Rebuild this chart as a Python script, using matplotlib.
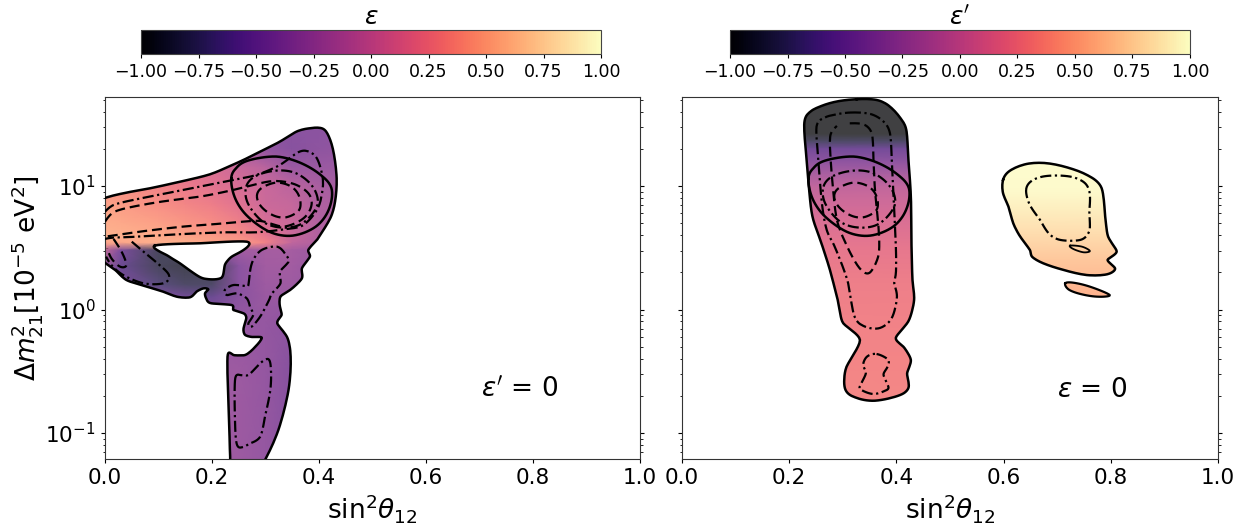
import numpy as np
import matplotlib
matplotlib.use("Agg")
import matplotlib.pyplot as plt
from matplotlib.colors import ListedColormap, Normalize
from matplotlib.cm import ScalarMappable
from matplotlib.path import Path

# Everything below is (sin^2 theta12, log10 dm2)
oval_solid = [(.236,1.062),(.245,1.143),(.267,1.205),(.320,1.238),(.369,1.180),(.407,1.075),(.424,.968),(.418,.806),(.394,.671),(.351,.598),(.307,.630),(.264,.765),(.242,.914)]
oval_dashdot = [(.264,.995),(.282,1.081),(.320,1.124),(.357,1.103),(.388,.995),(.397,.846),(.369,.698),(.332,.663),(.295,.711),(.267,.860)]
oval_dashed = [(.284,.914),(.292,.981),(.320,1.027),(.348,.995),(.363,.914),(.363,.806),(.338,.746),(.313,.765),(.292,.833)]

left_outline = [(-.015,.870),(.028,.935),(.084,.981),(.146,1.040),(.196,1.094),(.231,1.157),(.259,1.211),(.290,1.278),(.327,1.359),(.358,1.440),(.383,1.467),(.405,1.467),(.417,1.413),(.427,1.278),(.433,1.062),(.430,.873),(.421,.738),(.402,.603),
 (.396,.563),(.380,.482),(.383,.428),(.368,.333),(.368,.252),(.346,.158),(.328,.104),(.327,.023),(.330,-.045),(.322,-.112),(.340,-.220),(.347,-.382),(.343,-.652),(.324,-.976),(.299,-1.219),(.285,-1.30),(.236,-1.30),(.234,-1.219),(.233,-1.057),(.231,-.787),(.229,-.382),(.240,-.368),(.262,-.368),(.281,-.301),(.293,-.228),(.277,-.223),(.262,-.206),(.259,-.152),(.264,-.072),(.259,-.031),(.240,-.004),(.237,.036),(.199,.050),(.190,.082),(.187,.131),(.193,.163),(.184,.171),(.171,.144),
 (.159,.099),(.134,.104),(.109,.144),(.072,.193),(.040,.239),(.019,.320),(-.015,.441),(-.015,.600),(-.015,.750)]
left_hole = [(.093,.517),(.178,.536),(.265,.549),(.259,.482),(.237,.428),(.224,.360),(.218,.258),(.190,.247),(.171,.279),(.140,.374),(.115,.441)]
left_band_dashdot = [(0,.792),(.016,.846),(.053,.887),(.115,.941),(.178,.995),(.240,1.049),(.283,1.089),(.327,1.170),(.358,1.265),(.377,1.283),(.396,1.224),(.407,1.062),(.405,.927),(.396,.806),(.371,.684),(.340,.652),(.283,.625),(.227,.625),(.146,.611),(.065,.590),(.016,.582),(0,.571)]
left_band_dashed = [(0,.711),(.016,.787),(.053,.833),(.115,.879),(.178,.914),(.240,.968),(.290,1.022),(.321,1.040),(.355,1.013),(.380,.941),(.386,.846),(.371,.738),(.333,.671),(.290,.717),(.227,.698),(.146,.671),(.065,.630),(.016,.598),(0,.590)]
left_lobe_dashdot = [(.050,.549),(.072,.468),(.109,.333),(.120,.266),(.109,.212),(.072,.212),(.034,.279),(.012,.360),(.002,.428)]
left_lobe_dashed = [(.016,.571),(.031,.468),(.040,.360),(.028,.347),(.012,.414),(.004,.495)]
left_mid_dashdot = [(.271,.306),(.277,.401),(.293,.482),(.321,.509),(.336,.455),(.343,.387),(.327,.306),(.328,.212),(.312,.131),(.308,.090),(.302,.036),(.290,-.058),(.274,-.139),(.268,-.112),(.277,-.045),(.271,.023),(.265,.090),(.246,.131),(.228,.117),(.224,.158),(.240,.198),(.262,.190),(.268,.198)]
left_tail_dashdot = [(.243,-.571),(.252,-.530),(.268,-.530),(.290,-.436),(.305,-.401),(.310,-.476),(.309,-.652),(.299,-.868),(.290,-1.030),(.271,-1.084),(.255,-1.116),(.246,-1.084),(.243,-.895)]

right_outline = [(.326,1.702),(.363,1.696),(.388,1.642),(.410,1.534),(.419,1.440),(.422,1.238),(.427,.914),(.428,.563),(.430,.239),(.433,.077),(.422,-.098),(.399,-.228),(.413,-.301),(.427,-.409),(.420,-.517),(.423,-.625),(.407,-.692),(.360,-.738),(.323,-.711),(.304,-.638),(.307,-.463),(.332,-.247),(.301,-.112),(.292,.049),(.276,.320),(.258,.563),(.245,.725),(.239,.887),(.232,1.238),(.228,1.494),(.236,1.588),(.257,1.642),(.288,1.683)]
right_dashdot = [(.313,1.594),(.351,1.583),(.376,1.521),(.388,1.426),(.391,1.238),(.394,.968),(.399,.509),(.399,.293),(.396,.212),(.401,.104),(.391,-.072),(.366,-.153),(.335,-.125),(.320,-.031),(.310,.212),(.295,.401),(.282,.536),(.270,.644),(.261,.860),(.254,1.238),(.251,1.480),(.264,1.548),(.283,1.575)]
right_dashed = [(.313,1.507),(.338,1.499),(.354,1.426),(.357,1.238),(.360,.968),(.366,.698),(.368,.509),(.364,.401),(.351,.301),(.338,.306),(.323,.387),(.304,.549),(.289,.725),(.282,.968),(.277,1.238),(.277,1.413),(.289,1.486)]
right_foot_dashdot = [(.363,-.360),(.385,-.409),(.382,-.476),(.376,-.530),(.385,-.625),(.379,-.657),(.357,-.684),(.335,-.652),(.332,-.620),(.343,-.517),(.338,-.450),(.345,-.382)]
blob_outline = [(.599,1.049),(.612,1.124),(.643,1.178),(.681,1.184),(.724,1.143),(.761,1.076),(.783,.981),(.789,.779),(.795,.590),(.811,.468),(.794,.401),(.808,.333),(.793,.285),(.755,.279),(.712,.320),(.674,.374),(.653,.428),(.649,.482),(.631,.590),(.618,.698),(.609,.833),(.599,.941)]
islet_outline = [(.715,.212),(.730,.217),(.761,.185),(.798,.117),(.774,.104),(.743,.126),(.721,.163)]
blob_dashdot = [(.642,.968),(.653,1.043),(.681,1.081),(.724,1.076),(.752,1.022),(.761,.927),(.760,.792),(.761,.684),(.758,.617),(.743,.563),(.706,.563),(.684,.617),(.668,.725),(.649,.846)]
blob_lens = [(.724,.517),(.746,.509),(.761,.474),(.749,.463),(.730,.490)]

# epsilon colour table, left panel
eps_s = [-.02, .03, .1, .15, .2, .25, .3, .35, .4, .46]
eps_L = [1.5, 1.3, 1.15, 1.0, .85, .7, .6, .54, .48, .35, .2, .1, -.1, -.5, -1.3]
eps_table = [
 [-.4,-.4,-.4,-.4,-.4,-.4,-.4,-.4,-.4,-.38],
 [-.1,-.1,-.1,-.1,-.1,-.2,-.35,-.42,-.38,-.33],
 [.3,.3,.25,.2,.12,0,-.1,-.3,-.3,-.28],
 [.42,.38,.3,.24,.17,.1,0,-.08,-.2,-.25],
 [.5,.45,.38,.32,.26,.16,.02,-.02,-.15,-.2],
 [.55,.52,.47,.42,.36,.28,.1,0,-.15,-.2],
 [.58,.56,.52,.48,.43,.36,.2,0,-.15,-.2],
 [.5,.5,.56,.56,.5,.45,.3,-.05,-.15,-.2],
 [.2,-.5,-.85,-.8,-.45,-.25,-.22,-.22,-.28,-.3],
 [-.2,-.6,-.85,-.92,-.88,-.4,-.25,-.25,-.33,-.35],
 [-.3,-.5,-.7,-.8,-.8,-.4,-.28,-.28,-.33,-.38],
 [-.4,-.4,-.45,-.55,-.6,-.4,-.3,-.3,-.38,-.38],
 [-.35,-.35,-.35,-.35,-.35,-.33,-.33,-.38,-.42,-.42],
 [-.28,-.28,-.28,-.28,-.28,-.28,-.33,-.43,-.47,-.47],
 [-.28,-.28,-.28,-.28,-.28,-.28,-.33,-.43,-.47,-.47],
]
# epsilon' colour profiles, right panel
main_L = [1.75,1.42,1.36,1.3,1.2,1.1,1.0,.9,.75,.5,.2,-.2,-.8]
main_eps = [-1,-1,-.8,-.55,-.38,-.2,-.05,.02,.1,.2,.27,.3,.33]
blob_L = [1.25,.95,.8,.6,.4,.2,.05]
blob_eps = [1,.97,.9,.8,.68,.6,.56]

x_ticks = [0, .2, .4, .6, .8, 1]
cbar_ticks = [-1, -.75, -.5, -.25, 0, .25, .5, .75, 1]
W, H = 1247, 525


def smooth(pts, closed=True, n=3):
    """Four-point subdivision, so the curve passes through the points read."""
    p = np.array(pts, float)
    for _ in range(n):
        if closed:
            a, b = p, np.roll(p, -1, axis=0)
            z, c = np.roll(p, 1, axis=0), np.roll(p, -2, axis=0)
            mid = 9/16*(a+b) - 1/16*(z+c)
            p = np.column_stack([a, mid]).reshape(-1, 2)
        else:
            e = np.vstack([2*p[0]-p[1], p, 2*p[-1]-p[-2]])
            mid = 9/16*(e[1:-2]+e[2:-1]) - 1/16*(e[:-3]+e[3:])
            q = np.zeros((2*len(p)-1, 2))
            q[::2] = p
            q[1::2] = mid
            p = q
    return p


def curve(ax, pts, ls, lw=1.6, closed=True):
    p = smooth(pts, closed)
    if closed:
        p = np.vstack([p, p[0]])
    ax.plot(p[:, 0], 10**p[:, 1], color='k', ls=ls, lw=lw, zorder=4)


def clip_path(*loops):
    paths = []
    for loop in loops:
        p = smooth(loop)
        p = np.vstack([p, p[0]])
        p[:, 1] = 10**p[:, 1]
        paths.append(Path(p, closed=False))
    return Path.make_compound_path(*paths)


base = plt.get_cmap('magma')(np.linspace(0, 1, 256))[:, :3]
faded = ListedColormap(base*.75 + .25)
norm = Normalize(-1, 1)
dd = (0, (5, 1.6, 1, 1.6))
dsh = (0, (4.5, 2.2))

fig = plt.figure(figsize=(W/100, H/100), dpi=100)


def box(x0, y0, x1, y1):
    return [x0/W, 1-y1/H, (x1-x0)/W, (y1-y0)/H]


axL = fig.add_axes(box(105, 97, 640, 459))
axR = fig.add_axes(box(682, 97, 1218, 459))
for ax in (axL, axR):
    ax.set_yscale('log')
    ax.set_xlim(0, 1)
    ax.set_ylim(10**-1.21, 10**1.72)
    ax.set_xticks(x_ticks)
    ax.tick_params(which='major', right=True, labelsize=15.5, length=3.2)
    ax.tick_params(which='minor', right=True, length=1.8)
    ax.set_xlabel(r'$\mathrm{sin}^2\theta_{12}$', fontsize=19, labelpad=3)
    for sp in ax.spines.values():
        sp.set_color('#333333')
axL.set_ylabel(r'$\Delta m^2_{21}[10^{-5}\ \mathrm{eV}^2]$', fontsize=19, labelpad=0)
axR.tick_params(which='both', labelleft=False)

# left panel
X, Y = np.meshgrid(eps_s, 10**np.array(eps_L))
m = axL.pcolormesh(X, Y, np.array(eps_table), cmap=faded, norm=norm, shading='gouraud', zorder=2)
m.set_clip_path(clip_path(left_outline, left_hole[::-1]), axL.transData)
curve(axL, left_outline, '-', 1.8)
curve(axL, left_hole, '-', 1.8)
curve(axL, left_band_dashdot, dd, closed=False)
curve(axL, left_band_dashed, dsh, closed=False)
curve(axL, left_lobe_dashdot, dd, closed=False)
curve(axL, left_lobe_dashed, dsh, closed=False)
curve(axL, left_mid_dashdot, dd)
curve(axL, left_tail_dashdot, dd)

# right panel
X, Y = np.meshgrid([.2, .45], 10**np.array(main_L))
m = axR.pcolormesh(X, Y, np.column_stack([main_eps, main_eps]), cmap=faded, norm=norm, shading='gouraud', zorder=2)
m.set_clip_path(clip_path(right_outline), axR.transData)
X, Y = np.meshgrid([.58, .83], 10**np.array(blob_L))
m = axR.pcolormesh(X, Y, np.column_stack([blob_eps, blob_eps]), cmap=faded, norm=norm, shading='gouraud', zorder=2)
m.set_clip_path(clip_path(blob_outline, islet_outline), axR.transData)
curve(axR, right_outline, '-', 1.8)
curve(axR, blob_outline, '-', 1.8)
curve(axR, islet_outline, '-', 1.6)
curve(axR, right_dashdot, dd)
curve(axR, right_dashed, dsh, closed=False)
curve(axR, right_foot_dashdot, dd)
curve(axR, blob_dashdot, dd)
curve(axR, blob_lens, '-', 1.3)

for ax in (axL, axR):
    curve(ax, oval_solid, '-', 1.8)
    curve(ax, oval_dashdot, dd)
    curve(ax, oval_dashed, dsh)

axL.text(.775, 10**-.65, r"$\varepsilon'$ = 0", fontsize=19, ha='center', va='center')
axR.text(.765, 10**-.65, r"$\varepsilon$ = 0", fontsize=19, ha='center', va='center')

for b, label in ((box(141, 30, 601, 54), r'$\varepsilon$'), (box(730, 30, 1190, 54), r"$\varepsilon'$")):
    cax = fig.add_axes(b)
    cb = fig.colorbar(ScalarMappable(norm=norm, cmap='magma'), cax=cax, orientation='horizontal', ticks=cbar_ticks)
    cb.ax.tick_params(labelsize=12.5, length=3.2)
    cb.ax.set_xticklabels([f'{t:.2f}'.replace('-', '\u2212') for t in cbar_ticks])
    cb.ax.set_title(label, fontsize=18, pad=4)
    cb.outline.set_edgecolor('#444444')

fig.savefig('out.png', dpi=100)
